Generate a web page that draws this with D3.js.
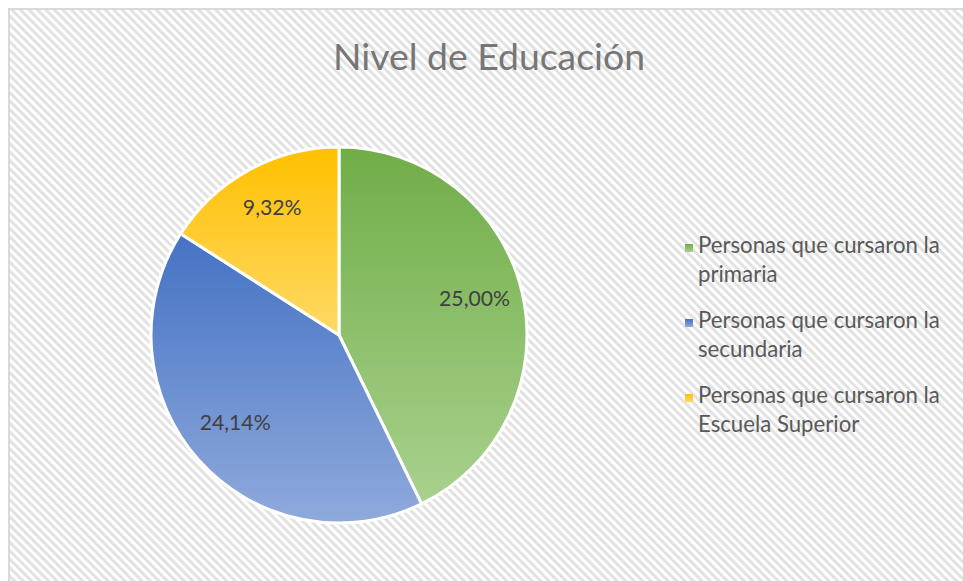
<!DOCTYPE html>
<html>
<head>
<meta charset="utf-8">
<script src="https://cdn.jsdelivr.net/npm/d3@7"></script>
<style>
  body { margin: 0; background: #fff; }
  svg { display: block; }
</style>
</head>
<body>
<script>
const categories = ['Personas que cursaron la primaria', 'Personas que cursaron la secundaria', 'Personas que cursaron la Escuela Superior']
const legendLines = [['Personas que cursaron la', 'primaria'], ['Personas que cursaron la', 'secundaria'], ['Personas que cursaron la', 'Escuela Superior']]
const values = [25.00, 24.14, 9.32]
const valueLabels = ['25,00%', '24,14%', '9,32%']
const topColors = ['#70ad47', '#4472c4', '#ffc000']
const bottomColors = ['#a9d18e', '#8faadc', '#ffd966']

const width = 963, height = 581
const cx = 339, cy = 335, radius = 188
const font = 'Lato, "Open Sans", sans-serif'

const svg = d3.select('body').append('svg').attr('width', width).attr('height', height)
const defs = svg.append('defs')

// hatched background
const pat = defs.append('pattern')
  .attr('id', 'hatch')
  .attr('patternUnits', 'userSpaceOnUse')
  .attr('width', 6).attr('height', 6)
  .attr('patternTransform', 'rotate(-45)')
pat.append('rect').attr('width', 6).attr('height', 6).attr('fill', '#fff')
pat.append('rect').attr('x', 0).attr('width', 3).attr('height', 6).attr('fill', '#e2e2e2')

categories.forEach((c, i) => {
  const g = defs.append('linearGradient')
    .attr('id', `grad${i}`)
    .attr('x1', 0).attr('y1', 0).attr('x2', 0).attr('y2', 1)
  g.append('stop').attr('offset', '0%').attr('stop-color', topColors[i])
  g.append('stop').attr('offset', '100%').attr('stop-color', bottomColors[i])
})

svg.append('rect')
  .attr('x', 9).attr('y', 9)
  .attr('width', width).attr('height', height)
  .attr('fill', 'url(#hatch)')
  .attr('stroke', '#d9d9d9')
  .attr('stroke-width', 2)

// scale a text's font so it spans the given width
const fitWidth = (sel, target) => {
  const w = sel.node().getComputedTextLength()
  const fs = parseFloat(sel.attr('font-size'))
  return fs * target / w
}

const title = svg.append('text')
  .attr('x', 489).attr('y', 70)
  .attr('text-anchor', 'middle')
  .attr('font-family', font)
  .attr('font-size', 36)
  .attr('fill', '#767676')
  .text('Nivel de Educación')
title.attr('font-size', fitWidth(title, 312))

const pie = d3.pie().sort(null).value(d => d)
const arc = d3.arc().innerRadius(0).outerRadius(radius)
const arcs = pie(values)

const chartGroup = svg.append('g').attr('transform', `translate(${cx},${cy})`)

chartGroup.selectAll('.slice')
  .data(arcs)
  .enter().append('path')
  .attr('class', 'slice')
  .attr('d', arc)
  .attr('fill', (d, i) => `url(#grad${i})`)
  .attr('stroke', '#fff')
  .attr('stroke-width', 3)
  .attr('stroke-linejoin', 'round')

const labelArc = d3.arc().innerRadius(radius * 0.74).outerRadius(radius * 0.74)
const lbls = chartGroup.selectAll('.lbl')
  .data(arcs)
  .enter().append('text')
  .attr('class', 'lbl')
  .attr('transform', d => `translate(${labelArc.centroid(d)})`)
  .attr('text-anchor', 'middle')
  .attr('dy', '0.1em')
  .attr('font-family', font)
  .attr('font-size', 20)
  .attr('fill', '#404040')
  .text((d, i) => valueLabels[i])
lbls.attr('font-size', fitWidth(d3.select(lbls.node()), 71))

// legend
const legend = svg.append('g').attr('transform', 'translate(685,0)')
const lineY = [[253, 282], [328, 357], [403, 432]]
let legendSize = 20
legendLines.forEach((lines, i) => {
  legend.append('rect')
    .attr('x', 0).attr('y', lineY[i][0] - 9)
    .attr('width', 8).attr('height', 8)
    .attr('fill', `url(#grad${i})`)
  lines.forEach((t, j) => {
    legend.append('text')
      .attr('class', 'leg')
      .attr('x', 13).attr('y', lineY[i][j])
      .attr('font-family', font)
      .attr('font-size', legendSize)
      .attr('fill', '#595959')
      .text(t)
  })
})
const legTexts = legend.selectAll('.leg')
legTexts.attr('font-size', fitWidth(d3.select(legTexts.node()), 242))
</script>
</body>
</html>
